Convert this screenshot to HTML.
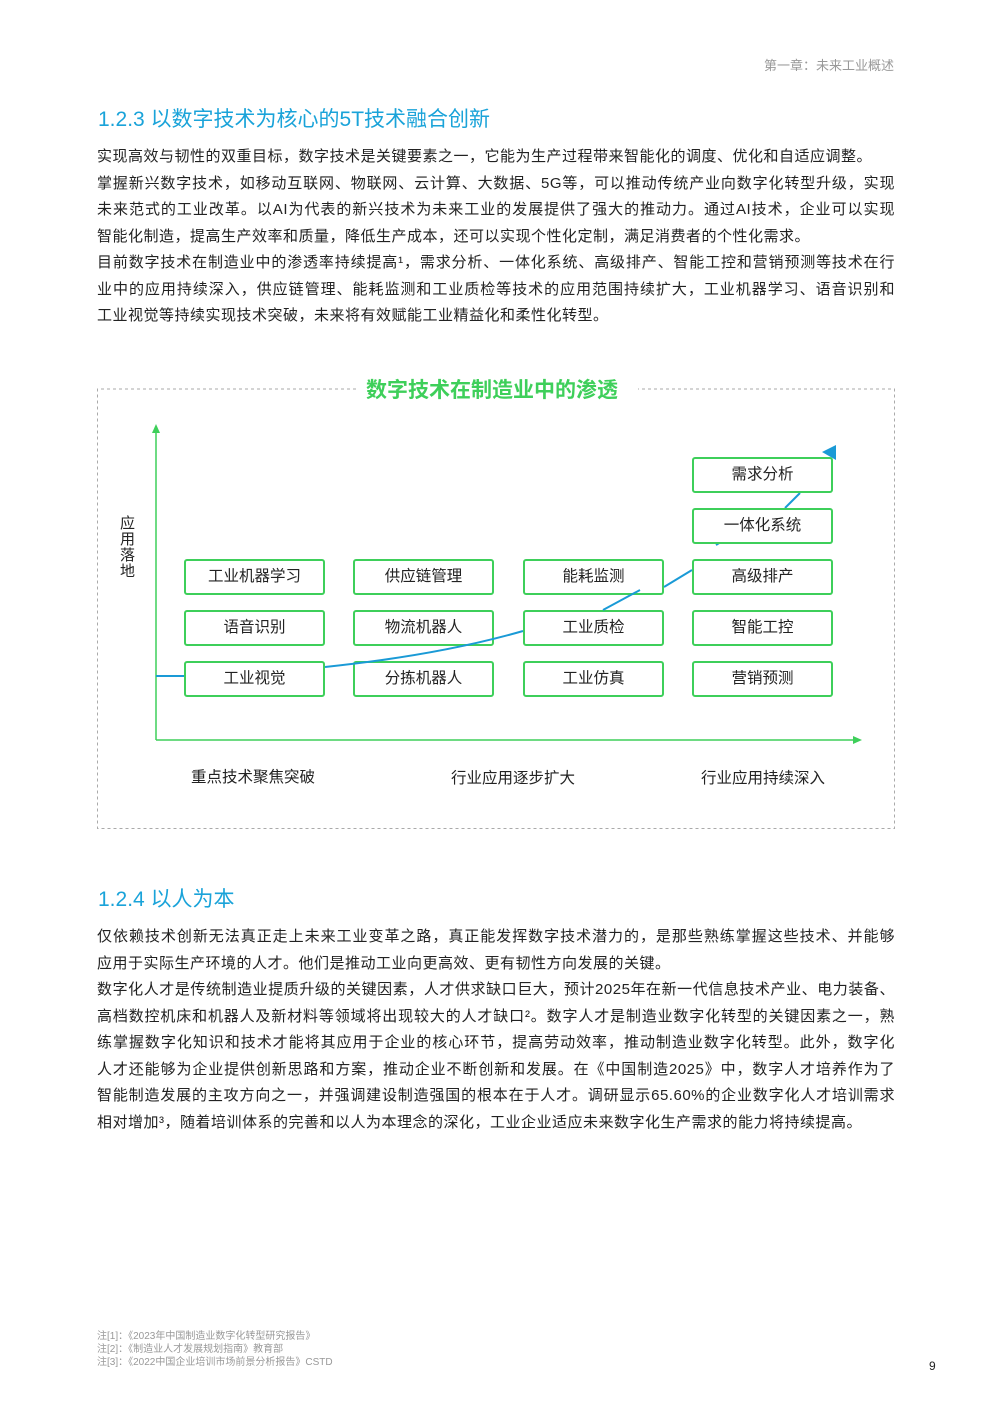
<!DOCTYPE html><html><head><meta charset="utf-8"><style>
body{margin:0;background:#fff;}
.p{position:relative;width:992px;height:1403px;font-family:"Liberation Sans","Noto Sans CJK SC",sans-serif;color:#222;}
.a{position:absolute;}
.h{color:#1aa3d9;font-size:21px;}
.t{position:absolute;left:97px;width:798px;font-size:15px;letter-spacing:0.5px;line-height:26.5px;}
.t div{text-align:justify;text-align-last:justify;height:26.5px;white-space:nowrap;}
.t div.l{text-align-last:left;}
.b{position:absolute;width:137px;height:32px;border:2px solid #3ecf5a;border-radius:3px;background:#fff;font-size:15.5px;text-align:center;line-height:32px;color:#222;}
.lab{position:absolute;font-size:15.5px;}
.n{position:absolute;left:97px;font-size:10px;color:#999;line-height:13px;}
</style></head><body><div class="p">
<div class="a" style="right:98px;top:55px;font-size:13px;color:#999;">第一章：未来工业概述</div>
<div class="a h" style="left:98px;top:103px;">1.2.3 以数字技术为核心的5T技术融合创新</div>
<div class="t" style="top:144px;">
<div class="l">实现高效与韧性的双重目标，数字技术是关键要素之一，它能为生产过程带来智能化的调度、优化和自适应调整。</div>
<div>掌握新兴数字技术，如移动互联网、物联网、云计算、大数据、5G等，可以推动传统产业向数字化转型升级，实现</div>
<div>未来范式的工业改革。以AI为代表的新兴技术为未来工业的发展提供了强大的推动力。通过AI技术，企业可以实现</div>
<div class="l">智能化制造，提高生产效率和质量，降低生产成本，还可以实现个性化定制，满足消费者的个性化需求。</div>
<div>目前数字技术在制造业中的渗透率持续提高¹，需求分析、一体化系统、高级排产、智能工控和营销预测等技术在行</div>
<div>业中的应用持续深入，供应链管理、能耗监测和工业质检等技术的应用范围持续扩大，工业机器学习、语音识别和</div>
<div class="l">工业视觉等持续实现技术突破，未来将有效赋能工业精益化和柔性化转型。</div>
</div>
<svg class="a" style="left:0;top:0" width="992" height="900">
<path d="M356 389 H97.5 V828.5 H894.5 V389 H638" fill="none" stroke="#aaa" stroke-dasharray="3,3"/>
<line x1="156" y1="740" x2="156" y2="430" stroke="#3ecf5a" stroke-width="1.5"/>
<polygon points="156,424 152,433 160,433" fill="#3ecf5a"/>
<line x1="156" y1="740" x2="856" y2="740" stroke="#3ecf5a" stroke-width="1.5"/>
<polygon points="862,740 853,736 853,744" fill="#3ecf5a"/>
<path d="M156 676 H186 M716 545 L740 530 M785 508 L800 493" fill="none" stroke="#1a9ad6" stroke-width="2"/>
<polygon points="836,445 836,460 822,452" fill="#1a9ad6"/>
</svg>
<div class="a" style="left:366px;top:374px;font-size:21px;font-weight:bold;color:#3ecf5a;">数字技术在制造业中的渗透</div>
<div class="a" style="left:120px;top:516px;width:16px;font-size:15px;line-height:16px;">应用落地</div>
<div class="b" style="left:184px;top:559px">工业机器学习</div>
<div class="b" style="left:184px;top:610px">语音识别</div>
<div class="b" style="left:184px;top:661px">工业视觉</div>
<div class="b" style="left:353px;top:559px">供应链管理</div>
<div class="b" style="left:353px;top:610px">物流机器人</div>
<div class="b" style="left:353px;top:661px">分拣机器人</div>
<div class="b" style="left:523px;top:559px">能耗监测</div>
<div class="b" style="left:523px;top:610px">工业质检</div>
<div class="b" style="left:523px;top:661px">工业仿真</div>
<div class="b" style="left:692px;top:457px">需求分析</div>
<div class="b" style="left:692px;top:508px">一体化系统</div>
<div class="b" style="left:692px;top:559px">高级排产</div>
<div class="b" style="left:692px;top:610px">智能工控</div>
<div class="b" style="left:692px;top:661px">营销预测</div>
<svg class="a" style="left:0;top:0" width="992" height="900"><path d="M325 667 Q440 655 523 631 M603 610 L640 590 M664 587 L692 570" fill="none" stroke="#1a9ad6" stroke-width="2"/></svg>
<div class="lab" style="left:191px;top:765px">重点技术聚焦突破</div>
<div class="lab" style="left:451px;top:766px">行业应用逐步扩大</div>
<div class="lab" style="left:701px;top:766px">行业应用持续深入</div>
<div class="a h" style="left:98px;top:883px;">1.2.4 以人为本</div>
<div class="t" style="top:924px;">
<div>仅依赖技术创新无法真正走上未来工业变革之路，真正能发挥数字技术潜力的，是那些熟练掌握这些技术、并能够</div>
<div class="l">应用于实际生产环境的人才。他们是推动工业向更高效、更有韧性方向发展的关键。</div>
<div>数字化人才是传统制造业提质升级的关键因素，人才供求缺口巨大，预计2025年在新一代信息技术产业、电力装备、</div>
<div>高档数控机床和机器人及新材料等领域将出现较大的人才缺口²。数字人才是制造业数字化转型的关键因素之一，熟</div>
<div>练掌握数字化知识和技术才能将其应用于企业的核心环节，提高劳动效率，推动制造业数字化转型。此外，数字化</div>
<div>人才还能够为企业提供创新思路和方案，推动企业不断创新和发展。在《中国制造2025》中，数字人才培养作为了</div>
<div>智能制造发展的主攻方向之一，并强调建设制造强国的根本在于人才。调研显示65.60%的企业数字化人才培训需求</div>
<div class="l">相对增加³，随着培训体系的完善和以人为本理念的深化，工业企业适应未来数字化生产需求的能力将持续提高。</div>
</div>
<div class="n" style="top:1330px">注[1]：《2023年中国制造业数字化转型研究报告》<br>注[2]：《制造业人才发展规划指南》教育部<br>注[3]：《2022中国企业培训市场前景分析报告》CSTD</div>
<div class="a" style="left:929px;top:1359px;font-size:12px;">9</div>
</div></body></html>
